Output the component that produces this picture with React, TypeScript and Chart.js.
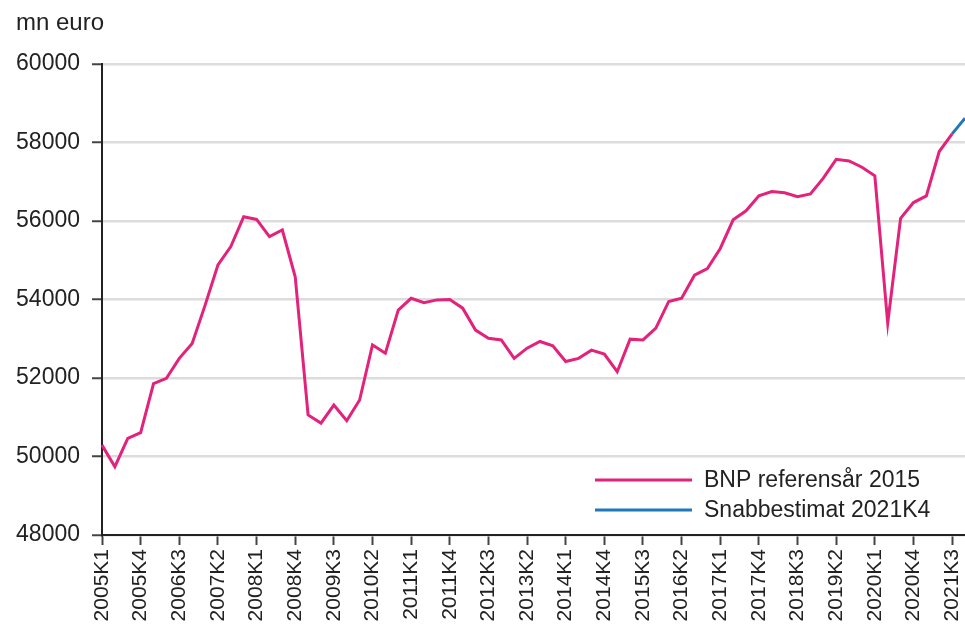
import React, { useEffect, useRef } from "react";
import { Chart, registerables } from "chart.js";

Chart.register(...registerables);

const quarters = [
  "2005K1", "2005K2", "2005K3", "2005K4",
  "2006K1", "2006K2", "2006K3", "2006K4",
  "2007K1", "2007K2", "2007K3", "2007K4",
  "2008K1", "2008K2", "2008K3", "2008K4",
  "2009K1", "2009K2", "2009K3", "2009K4",
  "2010K1", "2010K2", "2010K3", "2010K4",
  "2011K1", "2011K2", "2011K3", "2011K4",
  "2012K1", "2012K2", "2012K3", "2012K4",
  "2013K1", "2013K2", "2013K3", "2013K4",
  "2014K1", "2014K2", "2014K3", "2014K4",
  "2015K1", "2015K2", "2015K3", "2015K4",
  "2016K1", "2016K2", "2016K3", "2016K4",
  "2017K1", "2017K2", "2017K3", "2017K4",
  "2018K1", "2018K2", "2018K3", "2018K4",
  "2019K1", "2019K2", "2019K3", "2019K4",
  "2020K1", "2020K2", "2020K3", "2020K4",
  "2021K1", "2021K2", "2021K3", "2021K4",
];

// BNP referensår 2015, mn euro (2005K1 .. 2021K3)
const bnpValues = [
  50290, 49740, 50460, 50610,
  51860, 51990, 52500, 52880,
  53850, 54880, 55350, 56110,
  56040, 55600, 55770, 54580,
  51060, 50850, 51310, 50910,
  51440, 52840, 52630, 53730,
  54030, 53920, 53990, 54000,
  53780, 53220, 53010, 52970,
  52500, 52760, 52930, 52820,
  52420, 52500, 52710, 52610,
  52160, 52990, 52970, 53270,
  53950, 54030, 54620, 54790,
  55300, 56030, 56260, 56640,
  56750, 56720, 56620, 56690,
  57090, 57570, 57530, 57370,
  57150, 53400, 56070, 56470,
  56640, 57770, 58220,
];

// Snabbestimat 2021K4
const flashLabels = ["2021K3", "2021K4"];
const flashValues = [58220, 58620];

const yTicks = [48000, 50000, 52000, 54000, 56000, 58000, 60000];
const tickEvery = 3;

const unitLabel = "mn euro";
const seriesNames = ["BNP referensår 2015", "Snabbestimat 2021K4"];
const seriesColors = ["#e3227b", "#1f78b8"];

const FONT = "'Liberation Sans', Arial, Helvetica, sans-serif";
const TEXT = "#222222";

export default function App() {
  const canvasRef = useRef<HTMLCanvasElement | null>(null);

  useEffect(() => {
    if (!canvasRef.current) return;

    const unitPlugin = {
      id: "unitTitle",
      afterDraw(chart: any) {
        const ctx = chart.ctx;
        ctx.save();
        ctx.font = `24px ${FONT}`;
        ctx.fillStyle = TEXT;
        ctx.textAlign = "left";
        ctx.textBaseline = "middle";
        ctx.fillText(unitLabel, 16, 23);
        ctx.restore();
      },
    };

    const legendPlugin = {
      id: "insideLegend",
      afterDraw(chart: any) {
        const ctx = chart.ctx;
        const area = chart.chartArea;
        ctx.save();
        chart.data.datasets.forEach((ds: any, i: number) => {
          const y = area.bottom - 55 + i * 30;
          const x0 = area.left + 493;
          ctx.strokeStyle = ds.borderColor;
          ctx.lineWidth = 3;
          ctx.beginPath();
          ctx.moveTo(x0, y);
          ctx.lineTo(x0 + 97, y);
          ctx.stroke();
          ctx.font = `23px ${FONT}`;
          ctx.fillStyle = TEXT;
          ctx.textAlign = "left";
          ctx.textBaseline = "middle";
          ctx.fillText(ds.label, x0 + 109, y + 1);
        });
        ctx.restore();
      },
    };

    const chart = new Chart(canvasRef.current, {
      type: "line",
      data: {
        labels: quarters,
        datasets: [
          {
            label: seriesNames[0],
            data: bnpValues,
            borderColor: seriesColors[0],
            backgroundColor: seriesColors[0],
            borderWidth: 3,
            pointRadius: 0,
            tension: 0,
            fill: false,
          },
          {
            label: seriesNames[1],
            data: flashLabels.map((q, i) => ({ x: q, y: flashValues[i] })),
            borderColor: seriesColors[1],
            backgroundColor: seriesColors[1],
            borderWidth: 3,
            pointRadius: 0,
            tension: 0,
            fill: false,
          },
        ],
      },
      options: {
        animation: false,
        responsive: true,
        maintainAspectRatio: false,
        layout: { padding: { top: 64, left: 0, right: 0, bottom: 0 } },
        plugins: {
          legend: { display: false },
          tooltip: { enabled: false },
          title: { display: false },
        },
        scales: {
          x: {
            type: "category",
            offset: false,
            border: { display: true, color: "#222222", width: 2 },
            grid: {
              display: true,
              drawOnChartArea: false,
              drawTicks: true,
              tickLength: 10,
              tickWidth: 2,
              tickColor: (ctx: any) =>
                ctx.index % tickEvery === 0 ? "#444444" : "rgba(0,0,0,0)",
            },
            ticks: {
              autoSkip: false,
              maxRotation: 90,
              minRotation: 90,
              padding: 4,
              color: TEXT,
              font: { family: FONT, size: 21 },
              callback: (_v: any, index: number) =>
                index % tickEvery === 0 ? quarters[index] : "",
            },
            afterFit: (scale: any) => {
              scale.height = 93;
              scale.paddingLeft = 0;
              scale.paddingRight = 0;
            },
          },
          y: {
            min: yTicks[0],
            max: yTicks[yTicks.length - 1],
            border: { display: true, color: "#222222", width: 2 },
            grid: {
              color: "#dcdcdc",
              lineWidth: 2.5,
              drawTicks: true,
              tickLength: 10,
              tickColor: "#444444",
              tickWidth: 2,
            },
            afterBuildTicks: (scale: any) => {
              scale.ticks = yTicks.map((v) => ({ value: v }));
            },
            ticks: {
              padding: 12,
              color: TEXT,
              font: { family: FONT, size: 23 },
              callback: (v: any) => String(v),
            },
            afterFit: (scale: any) => {
              scale.width = 102;
              scale.paddingTop = 0;
              scale.paddingBottom = 0;
            },
          },
        },
      },
      plugins: [unitPlugin, legendPlugin],
    });

    return () => chart.destroy();
  }, []);

  return (
    <div style={{ position: "fixed", left: 0, top: 0, width: 965, height: 628 }}>
      <canvas ref={canvasRef} style={{ display: "block" }} />
    </div>
  );
}
